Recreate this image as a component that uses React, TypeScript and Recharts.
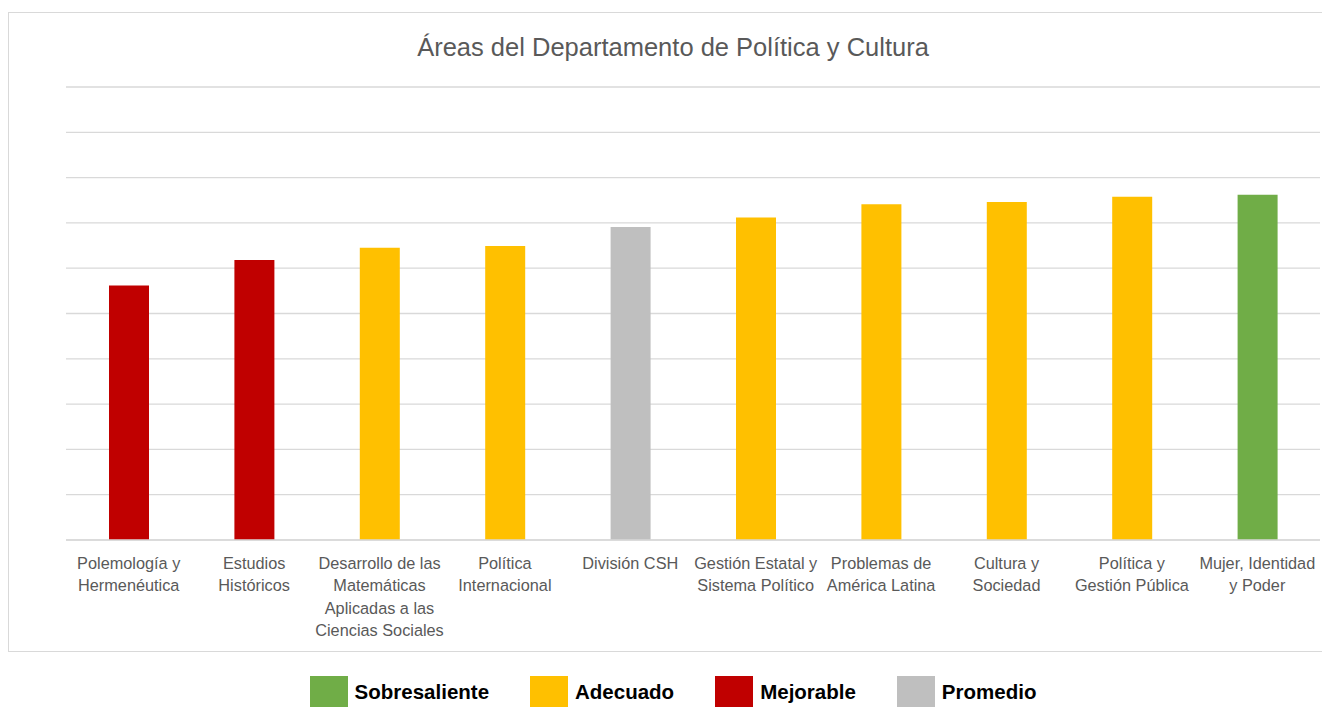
import React from "react";
import { BarChart, Bar, XAxis, YAxis, CartesianGrid, Cell, Legend } from "recharts";

const title = "Áreas del Departamento de Política y Cultura";

const categories = [
  "Polemología y Hermenéutica",
  "Estudios Históricos",
  "Desarrollo de las Matemáticas Aplicadas a las Ciencias Sociales",
  "Política Internacional",
  "División CSH",
  "Gestión Estatal y Sistema Político",
  "Problemas de América Latina",
  "Cultura y Sociedad",
  "Política y Gestión Pública",
  "Mujer, Identidad y Poder",
];

const tickLines = [
  ["Polemología y", "Hermenéutica"],
  ["Estudios", "Históricos"],
  ["Desarrollo de las", "Matemáticas", "Aplicadas a las", "Ciencias Sociales"],
  ["Política", "Internacional"],
  ["División CSH"],
  ["Gestión Estatal y", "Sistema Político"],
  ["Problemas de", "América Latina"],
  ["Cultura y", "Sociedad"],
  ["Política y", "Gestión Pública"],
  ["Mujer, Identidad", "y Poder"],
];

const values = [5.62, 6.18, 6.45, 6.49, 6.91, 7.12, 7.41, 7.46, 7.58, 7.62];

const levels = [
  "Mejorable",
  "Mejorable",
  "Adecuado",
  "Adecuado",
  "Promedio",
  "Adecuado",
  "Adecuado",
  "Adecuado",
  "Adecuado",
  "Sobresaliente",
];

const legendNames = ["Sobresaliente", "Adecuado", "Mejorable", "Promedio"];
const legendColors = ["#70AD47", "#FFC000", "#C00000", "#BFBFBF"];

const yTicks = [0, 1, 2, 3, 4, 5, 6, 7, 8, 9, 10];

const data = categories.map((c, i) => ({ name: c, value: values[i], level: levels[i] }));

const colorFor = (level: string) => legendColors[legendNames.indexOf(level)];

const CategoryTick = (props: any) => {
  const { x, y, payload } = props;
  const idx = categories.indexOf(payload.value);
  const lines = idx >= 0 ? tickLines[idx] : [String(payload.value)];
  return (
    <g transform={`translate(${x},${y})`}>
      <text
        textAnchor="middle"
        fill="#595959"
        fontSize={16.3}
        fontFamily="'Liberation Sans', Arial, sans-serif"
      >
        {lines.map((l: string, i: number) => (
          <tspan key={i} x={0} y={21 + i * 22.3}>
            {l}
          </tspan>
        ))}
      </text>
    </g>
  );
};

const LegendContent = () => (
  <div
    style={{
      display: "flex",
      justifyContent: "center",
      alignItems: "center",
      height: 31,
      paddingRight: 40,
      fontFamily: "'Liberation Sans', Arial, sans-serif",
      fontWeight: "bold",
      fontSize: 20.5,
      color: "#000",
    }}
  >
    {legendNames.map((n, i) => (
      <div
        key={n}
        style={{ display: "flex", alignItems: "center", marginLeft: i === 0 ? 0 : 41 }}
      >
        <div style={{ width: 38, height: 31, background: legendColors[i], marginRight: 7 }} />
        <span>{n}</span>
      </div>
    ))}
  </div>
);

export default function App() {
  return (
    <div style={{ position: "relative", width: 1322, height: 699 }}>
      <div
        style={{
          position: "absolute",
          left: 0,
          top: 4,
          width: 1320,
          height: 640,
          border: "1px solid #d9d9d9",
          boxSizing: "border-box",
          background: "#fff",
        }}
      />
      <BarChart
        width={1322}
        height={699}
        data={data}
        margin={{ top: 79, right: 10, bottom: 0, left: 58 }}
      >
        <text
          x={665}
          y={48}
          textAnchor="middle"
          fill="#595959"
          fontSize={25.5}
          fontFamily="'Liberation Sans', Arial, sans-serif"
        >
          {title}
        </text>
        <CartesianGrid vertical={false} stroke="#d9d9d9" strokeWidth={1.3} />
        <YAxis hide domain={[0, 10]} ticks={yTicks} />
        <XAxis
          dataKey="name"
          height={136}
          interval={0}
          tickLine={false}
          axisLine={{ stroke: "#d9d9d9", strokeWidth: 1.3 }}
          tick={<CategoryTick />}
        />
        <Legend verticalAlign="bottom" content={<LegendContent />} />
        <Bar dataKey="value" barSize={40} isAnimationActive={false}>
          {data.map((d, i) => (
            <Cell key={i} fill={colorFor(d.level)} />
          ))}
        </Bar>
      </BarChart>
    </div>
  );
}
